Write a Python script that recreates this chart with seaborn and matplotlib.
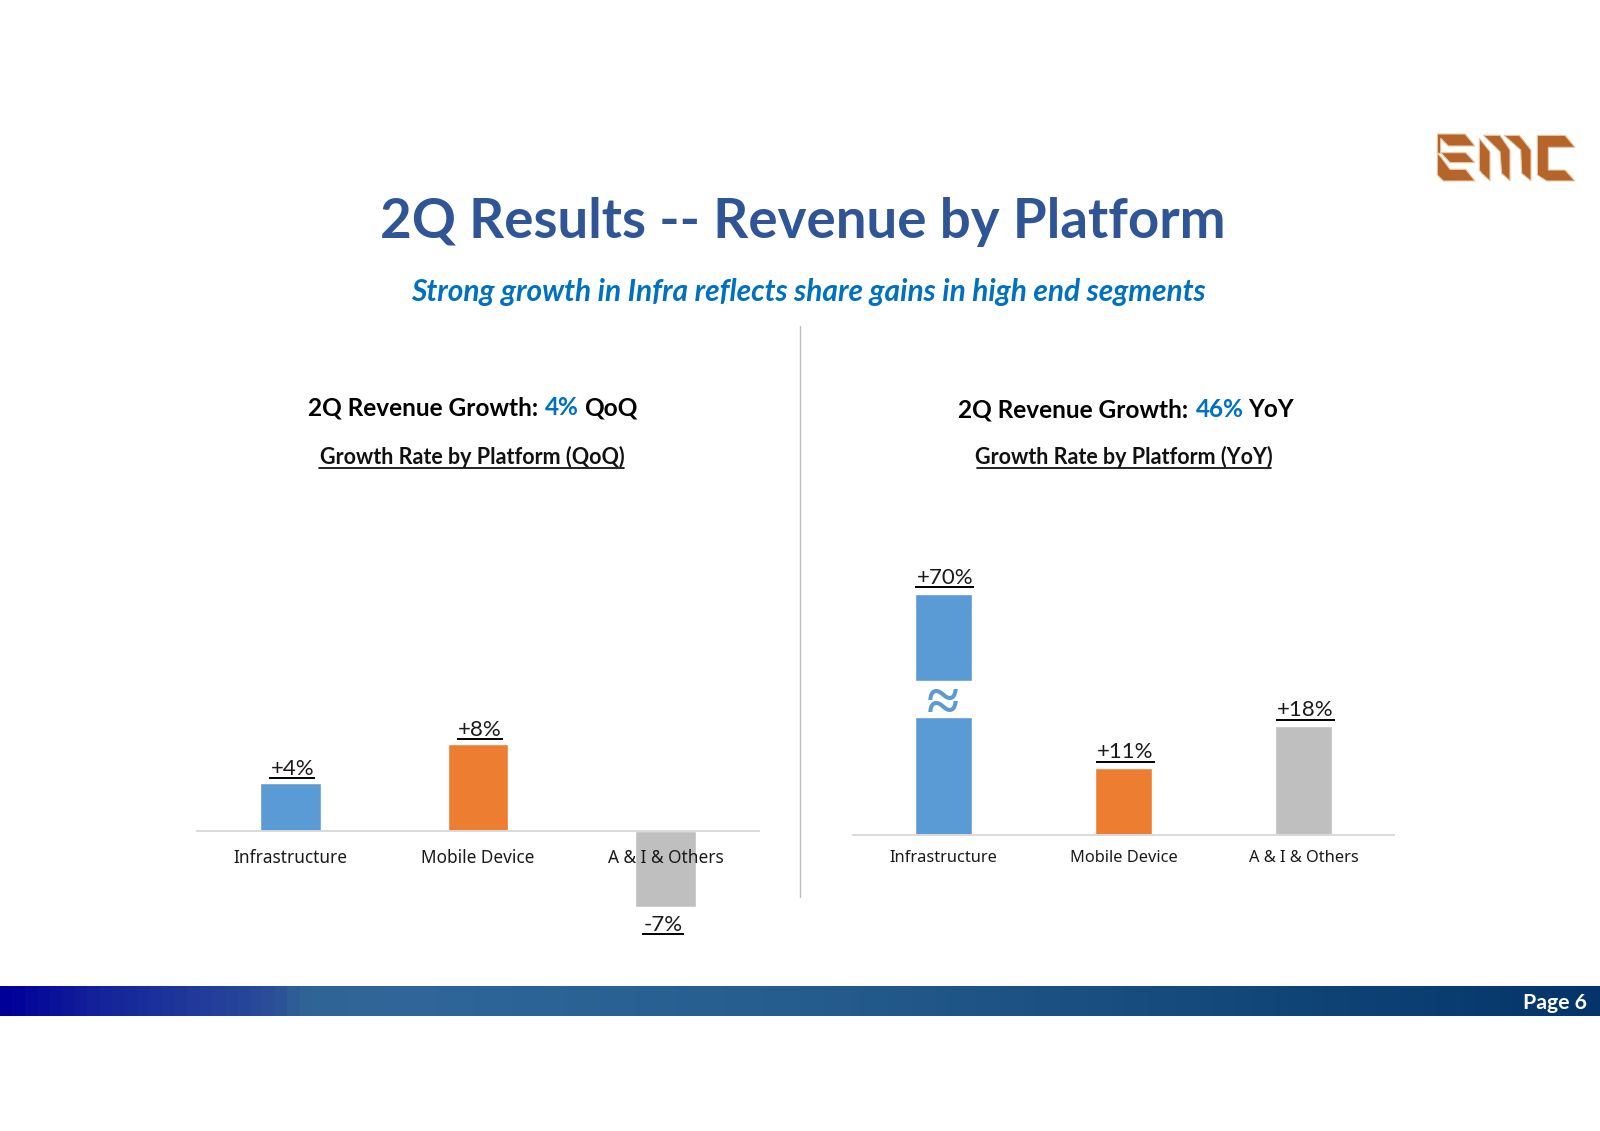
import numpy as np
import matplotlib
matplotlib.use("Agg")
import matplotlib.pyplot as plt
from matplotlib.colors import LinearSegmentedColormap
from matplotlib.patches import Polygon
import seaborn as sns

qoq_cats = ["Infrastructure", "Mobile Device", "A & I & Others"]
qoq_vals = [4.4, 8.0, -7.0]
qoq_labels = ["+4%", "+8%", "-7%"]

yoy_cats = ["Infrastructure", "Mobile Device", "A & I & Others"]
yoy_bar_heights = [40.0, 11.0, 18.0]  # first bar is cut, it really is 70%
yoy_labels = ["+70%", "+11%", "+18%"]

bar_colors = ["#5B9BD5", "#ED7D31", "#BFBFBF"]
navy = "#2F5597"
blue = "#0070C0"
brown = "#B5652A"

sns.set_theme(style="white")
plt.rcParams["font.family"] = ["Lato", "DejaVu Sans"]

W, H = 1568.0, 1108.4  # coordinates
fig = plt.figure(figsize=(16, 11.31), dpi=100, facecolor="white")
rend = fig.canvas.get_renderer()


def add_axes(x0, x1, ytop, ybot):
    return fig.add_axes([x0 / W, 1 - ybot / H, (x1 - x0) / W, (ybot - ytop) / H])


def draw_chart(ax, cats, vals, labels, ymin, ymax, width, px_unit, pad, tick_size, gap, text_off):
    sns.barplot(x=cats, y=vals, hue=cats, palette=bar_colors, saturation=1,
                width=width, legend=False, ax=ax)
    ax.set_ylim(ymin, ymax)
    ax.set_xlim(-0.5, 2.5)
    ax.patch.set_alpha(0)
    sns.despine(ax=ax, left=True, top=True, right=True)
    ax.spines["bottom"].set_position(("data", 0))
    ax.spines["bottom"].set_color("#D9D9D9")
    ax.spines["bottom"].set_linewidth(1.4)
    ax.set_axisbelow(False)
    ax.set_yticks([])
    ax.tick_params(axis="x", length=0, pad=pad, labelsize=tick_size, labelcolor="#1A1A1A")
    for lab in ax.get_xticklabels():
        lab.set_fontfamily("Noto Sans")
    for i, (h, lab) in enumerate(zip(vals, labels)):
        y_line = h + (gap if h >= 0 else -27) / px_unit
        x = i + (0.01 if h >= 0 else -0.012)
        t = ax.text(x, y_line + text_off / px_unit, lab, ha="center", va="center",
                    fontsize=16, color="#1A1A1A", clip_on=False)
        # underline follows the width of the label
        box = t.get_window_extent(rend).transformed(ax.transData.inverted())
        ax.plot([box.x0 - 0.008, box.x1 + 0.006], [y_line, y_line], color="black",
                lw=1.4, clip_on=False, solid_capstyle="butt")


left = add_axes(193, 744, 708, 899)
draw_chart(left, qoq_cats, qoq_vals, qoq_labels, -8, 10, 0.322, 10.6, 13, 12.4, 4.5, 9.2)

right = add_axes(836, 1366, 500, 818 + 59)
draw_chart(right, yoy_cats, yoy_bar_heights, yoy_labels, -10, 53.9, 0.316, 5.9, 11.2, 11.8, 6.5, 9.5)
# white gap where the tall bar is cut
sns.barplot(x=yoy_cats[:1], y=[6.1], order=yoy_cats, color="white", saturation=1,
            width=0.34, bottom=19.5, ax=right)
right.text(0, 21.4, "\u2248", ha="center", va="center", fontsize=42, fontweight="bold",
           color=bar_colors[0], family="Liberation Serif")

# page layer in slide coordinates
pg = fig.add_axes([0, 0, 1, 1], facecolor="none")
pg.set_xlim(0, W)
pg.set_ylim(H, 0)
pg.axis("off")

band = LinearSegmentedColormap.from_list("band", [
    (0.0, "#000099"), (0.06, "#14239A"), (0.165, "#2A4C9A"), (0.19, "#306596"),
    (0.27, "#2F6699"), (0.5, "#265D8F"), (0.75, "#144A7C"), (1.0, "#04356A")], N=128)
pg.imshow(np.linspace(0, 1, 512).reshape(1, -1), cmap=band, aspect="auto",
          extent=(0, W, 995.5, 966.5), zorder=1)
pg.set_xlim(0, W)
pg.set_ylim(H, 0)
pg.text(1555, 982.5, "Page 6", ha="right", va="center", color="white",
        fontsize=15.3, fontweight="bold")

pg.plot([784, 784], [319, 879], color="#BFBFBF", lw=1)

pg.text(787, 217.5, "2Q Results -- Revenue by Platform", ha="center", va="center",
        fontsize=39.3, fontweight="bold", color=navy)
pg.text(792, 286.5, "Strong growth in Infra reflects share gains in high end segments",
        ha="center", va="center", fontsize=21.5, fontweight="bold", style="italic", color=blue)


def head(y, x1, x2, x3, num, tail):
    pg.text(x1, y, "2Q Revenue Growth:", va="center", fontsize=17.6, fontweight="bold", color="black")
    pg.text(x2, y, num, va="center", fontsize=17.6, fontweight="bold", color=blue)
    pg.text(x3, y, tail, va="center", fontsize=17.6, fontweight="bold", color="black")


head(399.5, 302, 534, 572, "4%", "QoQ")
head(401.5, 939, 1172, 1223, "46%", "YoY")

for x0, x1, txt in [(313, 612, "Growth Rate by Platform (QoQ)"),
                    (957, 1246, "Growth Rate by Platform (YoY)")]:
    pg.text((x0 + x1) / 2, 448, txt, ha="center", va="center", fontsize=15.5,
            fontweight="bold", color="#111111")
    pg.plot([x0, x1], [459, 459], color="black", lw=1.2)

# EMC logo blocks, outlined from a zoomed crop
logo = [
    [(112, 72), (195, 72), (225, 108), (145, 108), (122, 85), (122, 130), (112, 130)],
    [(122, 128), (197, 128), (225, 158), (150, 158)],
    [(112, 130), (122, 140), (150, 178), (197, 178), (225, 213), (130, 213), (112, 195)],
    [(238, 85), (270, 125), (270, 213), (245, 190), (238, 180)],
    [(250, 76), (300, 76), (330, 120), (330, 213), (305, 190), (300, 125)],
    [(312, 76), (358, 76), (393, 120), (393, 213), (365, 190), (362, 120)],
    [(412, 76), (495, 76), (525, 112), (445, 112), (445, 180), (495, 180), (525, 213), (440, 213), (412, 195)],
]
for block in logo:
    pts = [(1372 + x * 0.3267, 107.8 + y * 0.3267) for x, y in block]
    pg.add_patch(Polygon(pts, closed=True, facecolor=brown, edgecolor="#E8C9A8", lw=0.8))

fig.savefig("out.png", dpi=100)
